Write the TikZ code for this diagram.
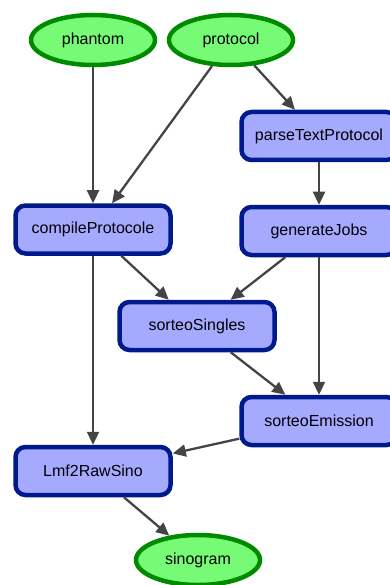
\documentclass[tikz,border=0pt]{standalone}
\usepackage{fontspec}
\setmainfont{Liberation Sans}
\usetikzlibrary{shapes.geometric,arrows.meta}
\definecolor{gfill}{HTML}{77FB77}
\definecolor{gdraw}{HTML}{008A00}
\definecolor{bfill}{HTML}{A6AAFF}
\definecolor{bdraw}{HTML}{001A8E}
\definecolor{edgec}{HTML}{444444}
\tikzset{
  dataell/.style={ellipse, draw=gdraw, fill=gfill, line width=4.5pt,
    minimum width=124pt, minimum height=50pt, inner sep=1pt,
    font=\fontsize{16}{19}\selectfont},
  procbox/.style={rectangle, rounded corners=10pt, draw=bdraw, fill=bfill,
    line width=4.5pt, minimum width=155pt, minimum height=48pt, inner sep=1pt,
    font=\fontsize{16}{19}\selectfont},
  flow/.style={draw=edgec, line width=2.3pt,
    -{Triangle[length=13pt,width=12pt]}}
}
\begin{document}
\begin{tikzpicture}[x=1pt,y=-1pt]
\useasboundingbox (0,0) rectangle (390,585);
\clip (0,0) rectangle (390,585);
\node[dataell] (phantom) at (93,40) {phantom};
\node[dataell] (protocol) at (231,40) {protocol};
\node[procbox] (parse) at (319,136) {parseTextProtocol};
\node[procbox] (compile) at (93,229.5) {compileProtocole};
\node[procbox] (gen) at (319,231) {generateJobs};
\node[procbox] (singles) at (197,326) {sorteoSingles};
\node[procbox] (emission) at (319,421) {sorteoEmission};
\node[procbox] (lmf) at (93,471) {Lmf2RawSino};
\node[dataell] (sino) at (198,560) {sinogram};
\draw[flow] (phantom) -- (compile);
\draw[flow] (protocol) -- (compile);
\draw[flow] (protocol) -- (parse);
\draw[flow] (parse) -- (gen);
\draw[flow] (compile) -- (singles);
\draw[flow] (gen) -- (singles);
\draw[flow] (compile) -- (lmf);
\draw[flow] (gen) -- (emission);
\draw[flow] (singles) -- (emission);
\draw[flow] (emission) -- (lmf);
\draw[flow] (lmf) -- (sino);
\end{tikzpicture}
\end{document}
